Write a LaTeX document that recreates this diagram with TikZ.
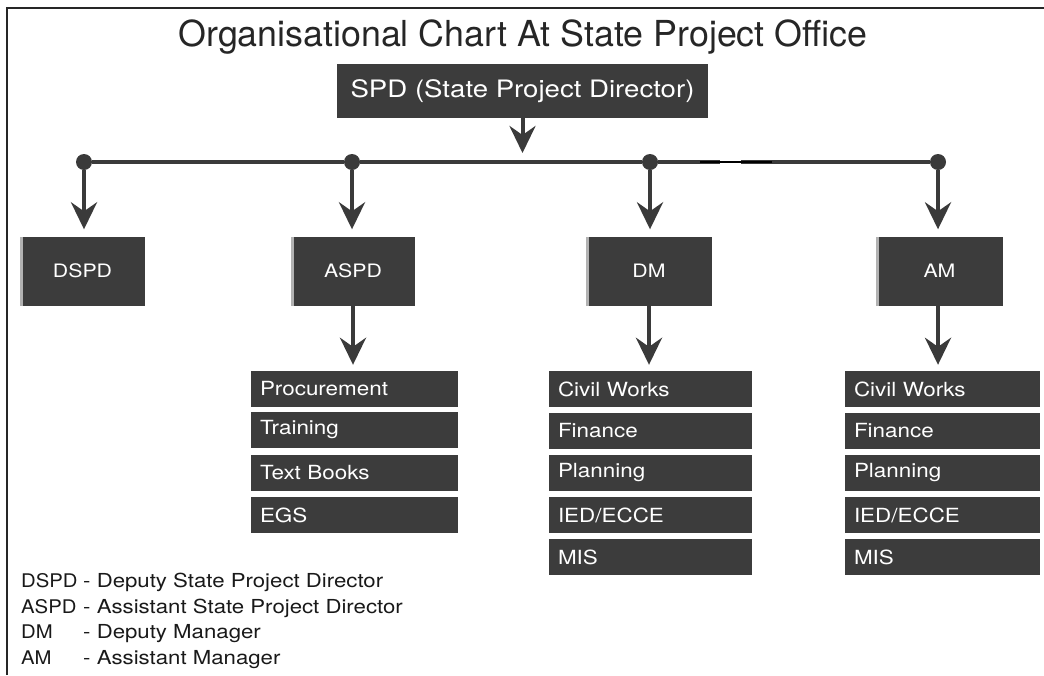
\documentclass[tikz,border=0pt]{standalone}
\usepackage{fontspec}
\setmainfont{TeX Gyre Heros}
\newfontfamily\widefont{TeX Gyre Heros}[FakeStretch=1.15]
\newfontfamily\legfont{TeX Gyre Heros}[FakeStretch=1.08]
\usetikzlibrary{arrows.meta}
\definecolor{boxc}{RGB}{60,60,60}
\definecolor{linec}{RGB}{58,58,58}
\begin{document}
\begin{tikzpicture}[x=1pt,y=-1pt,
  frame/.style={draw=black!85, line width=1.5pt},
  conn/.style={draw=linec, line width=4pt},
  arr/.style={draw=linec, line width=4pt, -{Stealth[length=27pt,width=26pt,inset=9pt]}},
  dot/.style={circle, fill=linec, inner sep=0pt, minimum size=16pt},
  leftedge/.style={path picture={\fill[black!30] (path picture bounding box.north west) rectangle ([xshift=2.5pt]path picture bounding box.south west);}},
  rolebox/.style={fill=boxc, text=white, inner sep=0pt, minimum width=#1, minimum height=69pt, leftedge, font=\widefont\fontsize{18.5}{22}\selectfont},
  listbox/.style={fill=boxc, text=white, inner xsep=9pt, inner ysep=0pt, text width=#1, minimum height=36pt, align=left, font=\widefont\fontsize{19.5}{22}\selectfont},
  legabbr/.style={anchor=base west, inner sep=0pt, text=black!90, font=\legfont\fontsize{18.8}{22}\selectfont},
  legdesc/.style={anchor=base west, inner sep=0pt, text=black!90, font=\widefont\fontsize{19.3}{22}\selectfont}
]
\useasboundingbox (0,0) rectangle (1044,675);
\draw[frame] (7,675) -- (7,8) -- (1044,8);

\node[font=\fontsize{35.8}{40}\selectfont, text=black!85] (title) at (523,37) {Organisational Chart At State Project Office};

\node[fill=boxc, text=white, minimum width=371pt, minimum height=54pt, inner sep=0pt, font=\widefont\fontsize{24}{28}\selectfont] (spd) at (522.5,91) {SPD (State Project Director)};
\coordinate (spdtip) at (522.5,153);
\draw[arr] (spd.south) -- (spdtip);

% hub line
\node[dot] (d1) at (84,162) {};
\node[dot] (d2) at (352,162) {};
\node[dot] (d3) at (650,162) {};
\node[dot] (d4) at (938,162) {};
\coordinate (g1) at (720,162);
\coordinate (g2) at (741,162);
\coordinate (t1) at (700,162);
\coordinate (t2) at (772,162);
\draw[conn] (d1) -- (d2) -- (d3) -- (g1);
\draw[conn] (g2) -- (d4);
\draw[black, line width=1.2pt] (t1) -- (t2);

% role boxes
\node[rolebox=125pt] (dspd) at (82.5,271) {DSPD};
\node[rolebox=124pt] (aspd) at (353,271) {ASPD};
\node[rolebox=126pt] (dm) at (649,271) {DM};
\node[rolebox=127pt] (am) at (939.5,271) {AM};

\draw[arr, shorten >=7pt] (d1) -- (d1 |- dspd.north);
\draw[arr, shorten >=7pt] (d2) -- (d2 |- aspd.north);
\draw[arr, shorten >=7pt] (d3) -- (d3 |- dm.north);
\draw[arr, shorten >=7pt] (d4) -- (d4 |- am.north);

% ASPD list
\node[listbox=189pt] (proc) at (354.5,389) {Procurement};
\node[listbox=189pt] (train) at (354.5,430) {Training};
\node[listbox=189pt] (books) at (354.5,473) {Text Books};
\node[listbox=189pt] (egs) at (354.5,515) {EGS};

% DM list
\node[listbox=185pt] (dmcw) at (650.5,389) {Civil Works};
\node[listbox=185pt] (dmfin) at (650.5,431) {Finance};
\node[listbox=185pt] (dmplan) at (650.5,473) {Planning};
\node[listbox=185pt] (dmied) at (650.5,515) {IED/ECCE};
\node[listbox=185pt] (dmmis) at (650.5,557) {MIS};

% AM list
\node[listbox=177pt] (amcw) at (942.5,389) {Civil Works};
\node[listbox=177pt] (amfin) at (942.5,431) {Finance};
\node[listbox=177pt] (amplan) at (942.5,473) {Planning};
\node[listbox=177pt] (amied) at (942.5,515) {IED/ECCE};
\node[listbox=177pt] (ammis) at (942.5,557) {MIS};

\draw[arr, shorten >=6pt] (aspd.south) -- (aspd.south |- proc.north);
\draw[arr, shorten >=6pt] (dm.south) -- (dm.south |- dmcw.north);
\draw[arr, shorten >=6pt] ([xshift=-1.5pt]am.south) -- ([xshift=-1.5pt]am.south |- amcw.north);

% legend
\node[legabbr] (l1a) at (21,587) {DSPD};
\node[legdesc] (l1b) at (83,587) {- Deputy State Project Director};
\node[legabbr] (l2a) at (21,613) {ASPD};
\node[legdesc] (l2b) at (83,613) {- Assistant State Project Director};
\node[legabbr] (l3a) at (21,638) {DM};
\node[legdesc] (l3b) at (83,638) {- Deputy Manager};
\node[legabbr] (l4a) at (21,664) {AM};
\node[legdesc] (l4b) at (83,664) {- Assistant Manager};
\end{tikzpicture}
\end{document}
